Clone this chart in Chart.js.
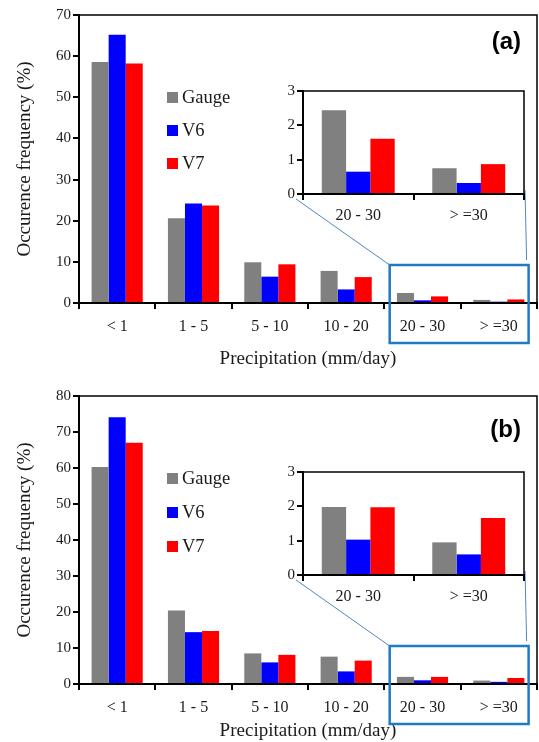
<!DOCTYPE html>
<html>
<head>
<meta charset="utf-8">
<script src="https://cdn.jsdelivr.net/npm/chart.js@4"></script>
<style>
  html, body { margin:0; padding:0; background:#fff; }
  #wrap { position:relative; width:539px; height:742px; overflow:hidden; }
  canvas { position:absolute; }
</style>
</head>
<body>
<div id="wrap">
  <canvas id="mainA" width="539" height="370" style="left:0;top:0;width:539px;height:370px"></canvas>
  <canvas id="insetA" width="265" height="145" style="left:270px;top:80px;width:265px;height:145px"></canvas>
  <canvas id="mainB" width="539" height="372" style="left:0;top:370px;width:539px;height:372px"></canvas>
  <canvas id="insetB" width="265" height="145" style="left:270px;top:461px;width:265px;height:145px"></canvas>
</div>
<script>
// ---------- data ----------
const categories = ['< 1', '1 - 5', '5 - 10', '10 - 20', '20 - 30', '> =30'];
const insetCategories = ['20 - 30', '> =30'];
const seriesNames = ['Gauge', 'V6', 'V7'];
const gaugeA = [58.6, 20.6, 9.9, 7.8, 2.44, 0.75];
const v6A    = [65.2, 24.2, 6.4, 3.3, 0.65, 0.32];
const v7A    = [58.2, 23.7, 9.4, 6.3, 1.61, 0.87];
const gaugeB = [60.3, 20.4, 8.5, 7.6, 1.98, 0.95];
const v6B    = [74.1, 14.4, 6.0, 3.5, 1.03, 0.60];
const v7B    = [67.0, 14.7, 8.1, 6.5, 1.97, 1.66];
const yMaxA = 70, yMaxB = 80, yStep = 10;
const insetMax = 3, insetStep = 1;
const panelLabels = ['(a)', '(b)'];
const yTitle = 'Occurence frequency (%)';
const xTitle = 'Precipitation (mm/day)';

// ---------- styles ----------
const colors = ['#808080', '#0000ff', '#ff0000'];
const SERIF = '"Liberation Serif", "Times New Roman", serif';
const xTickFont = { family: SERIF, size: 16 };
const yTickFont = { family: SERIF, size: 15 };
const titleFont = { family: SERIF, size: 19 };
const ink = '#1a1a1a';

function makeDatasets(arrs, sliceFrom) {
  return arrs.map((a, i) => ({
    label: seriesNames[i],
    data: sliceFrom ? a.slice(sliceFrom) : a,
    backgroundColor: colors[i],
    borderWidth: 0
  }));
}

const framePlugin = {
  id: 'frame',
  afterDraw(chart) {
    const { ctx, chartArea: ca } = chart;
    ctx.save();
    ctx.strokeStyle = '#000';
    ctx.lineWidth = 1.5;
    ctx.beginPath();
    ctx.moveTo(ca.left, ca.top);
    ctx.lineTo(ca.right, ca.top);
    ctx.lineTo(ca.right, ca.bottom + 3);
    ctx.stroke();
    ctx.restore();
  }
};

const decorPlugin = {
  id: 'decor',
  afterDraw(chart, args, opts) {
    const { ctx, chartArea: ca } = chart;
    const xs = chart.scales.x;
    ctx.save();
    // legend
    ctx.font = '18.5px ' + SERIF;
    ctx.textBaseline = 'middle';
    chart.data.datasets.forEach((ds, i) => {
      const y = ca.top + 83 + i * opts.legendGap;
      const x = ca.left + 88;
      ctx.fillStyle = ds.backgroundColor;
      ctx.fillRect(x, y - 6, 11, 11);
      ctx.fillStyle = ink;
      ctx.textAlign = 'left';
      ctx.fillText(ds.label, x + 15, y);
    });
    // panel label
    ctx.font = 'bold 24px "Liberation Sans", Arial, sans-serif';
    ctx.fillStyle = '#000';
    ctx.textAlign = 'right';
    ctx.fillText(opts.label, ca.right - 16, ca.top + opts.labelDy);
    // zoom box
    const cw = xs.getPixelForValue(5) - xs.getPixelForValue(4);
    const bx0 = xs.getPixelForValue(4) - 0.43 * cw;
    const bx1 = xs.getPixelForValue(5) + 0.39 * cw;
    const by0 = ca.bottom - 38;
    const by1 = ca.bottom + 40;
    ctx.strokeStyle = '#1f7bc1';
    ctx.lineWidth = 2.5;
    ctx.strokeRect(bx0, by0, bx1 - bx0, by1 - by0);
    // connectors
    const inset = opts.inset;
    const ia = inset.chartArea;
    const ox = inset.canvas.offsetLeft - chart.canvas.offsetLeft;
    const oy = inset.canvas.offsetTop - chart.canvas.offsetTop;
    ctx.strokeStyle = '#4f86c6';
    ctx.lineWidth = 1;
    ctx.beginPath();
    ctx.moveTo(ox + ia.left - 7, oy + ia.bottom + 5);
    ctx.lineTo(bx0, by0);
    ctx.moveTo(ox + ia.right + 1, oy + ia.bottom - 4);
    ctx.lineTo(bx1 - 2, by0 - 5);
    ctx.stroke();
    ctx.restore();
  }
};

function axisCommon(extra) {
  return Object.assign({
    grid: { display: true, drawOnChartArea: false, drawTicks: true, tickLength: 6, color: '#000', lineWidth: 2 },
    border: { display: true, color: '#000', width: 2 }
  }, extra);
}

function makeInset(id, arrs) {
  return new Chart(document.getElementById(id), {
    type: 'bar',
    data: { labels: insetCategories, datasets: makeDatasets(arrs, 4) },
    options: {
      responsive: false, animation: false, devicePixelRatio: 1,
      layout: { padding: { top: 10, right: 11, left: 0, bottom: 0 } },
      plugins: { legend: { display: false }, tooltip: { enabled: false } },
      datasets: { bar: { categoryPercentage: 0.66, barPercentage: 1 } },
      scales: {
        x: axisCommon({
          ticks: { font: xTickFont, color: ink, maxRotation: 0, padding: 6 },
          afterFit: s => { s.height = 31; }
        }),
        y: axisCommon({
          min: 0, max: insetMax,
          ticks: { font: yTickFont, color: ink, stepSize: insetStep, padding: 2 },
          afterFit: s => { s.width = 33; }
        })
      }
    },
    plugins: [framePlugin]
  });
}

function makeMain(id, arrs, yMax, inset, label, padTop, xHeight, xTickPad, legendGap, labelDy) {
  return new Chart(document.getElementById(id), {
    type: 'bar',
    data: { labels: categories, datasets: makeDatasets(arrs, 0) },
    options: {
      responsive: false, animation: false, devicePixelRatio: 1,
      layout: { padding: { top: padTop, right: 2, left: 0, bottom: 0 } },
      plugins: {
        legend: { display: false }, tooltip: { enabled: false },
        decor: { inset: inset, label: label, legendGap: legendGap, labelDy: labelDy }
      },
      datasets: { bar: { categoryPercentage: 0.67, barPercentage: 1 } },
      scales: {
        x: axisCommon({
          ticks: { font: xTickFont, color: ink, maxRotation: 0, padding: xTickPad },
          title: { display: true, text: xTitle, font: titleFont, color: ink, padding: { top: 0, bottom: 0 } },
          afterFit: s => { s.height = xHeight; }
        }),
        y: axisCommon({
          min: 0, max: yMax,
          ticks: { font: yTickFont, color: ink, stepSize: yStep, padding: 2 },
          title: { display: true, text: yTitle, font: titleFont, color: ink, padding: { top: 14, bottom: 0 } },
          afterFit: s => { s.width = 79; }
        })
      }
    },
    plugins: [framePlugin, decorPlugin]
  });
}

const insetChartA = makeInset('insetA', [gaugeA, v6A, v7A]);
const insetChartB = makeInset('insetB', [gaugeB, v6B, v7B]);
makeMain('mainA', [gaugeA, v6A, v7A], yMaxA, insetChartA, panelLabels[0], 15, 67, 8, 33, 27);
makeMain('mainB', [gaugeB, v6B, v7B], yMaxB, insetChartB, panelLabels[1], 26, 58, 8, 34, 34);
</script>
</body>
</html>
